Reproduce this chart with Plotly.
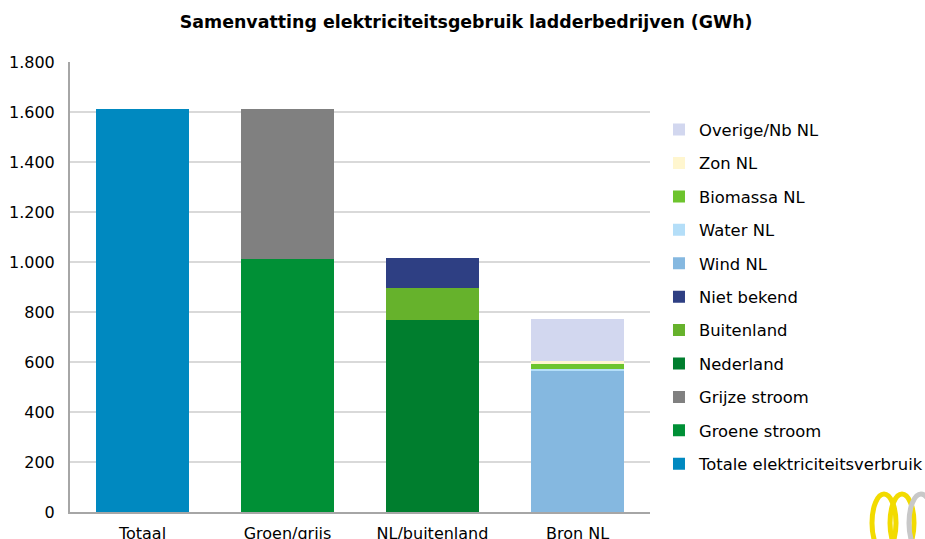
import plotly.graph_objects as go

# Categories on the x axis
categories = ["Totaal", "Groen/grijs", "NL/buitenland", "Bron NL"]

# Series (GWh), in stacking order; each series lives in one category
series_names = [
    "Totale elektriciteitsverbruik",
    "Groene stroom",
    "Grijze stroom",
    "Nederland",
    "Buitenland",
    "Niet bekend",
    "Wind NL",
    "Water NL",
    "Biomassa NL",
    "Zon NL",
    "Overige/Nb NL",
]
series_category = [
    "Totaal",
    "Groen/grijs",
    "Groen/grijs",
    "NL/buitenland",
    "NL/buitenland",
    "NL/buitenland",
    "Bron NL",
    "Bron NL",
    "Bron NL",
    "Bron NL",
    "Bron NL",
]
series_values = [1612, 1012, 600, 768, 128, 120, 565, 7, 20, 12, 168]
series_colors = [
    "#0089C0",
    "#009036",
    "#808080",
    "#007E2E",
    "#66B22C",
    "#2E3F83",
    "#85B8E0",
    "#B4DEF8",
    "#6DC42D",
    "#FFF6CF",
    "#D2D7EF",
]

y_ticks = [0, 200, 400, 600, 800, 1000, 1200, 1400, 1600, 1800]

FONT = "DejaVu Sans"

fig = go.Figure()
n = len(series_names)
for i, (name, cat, val, col) in enumerate(
    zip(series_names, series_category, series_values, series_colors)
):
    fig.add_trace(
        go.Bar(
            name=name,
            x=[cat],
            y=[val],
            marker=dict(color=col, line=dict(width=0)),
            legendgroup=f"g{i}",
            legendrank=100 + (n - i),
            hovertemplate="%{x}: %{y}<extra>" + name + "</extra>",
        )
    )

fig.update_layout(
    barmode="stack",
    bargap=0.355,
    width=925,
    height=539,
    margin=dict(l=70, r=275, t=62, b=27, autoexpand=False),
    paper_bgcolor="white",
    plot_bgcolor="white",
    separators=",.",
    font=dict(family=FONT, size=16, color="#000000"),
    title=dict(
        text="<b>Samenvatting elektriciteitsgebruik ladderbedrijven (GWh)</b>",
        x=0.504,
        xanchor="center",
        y=0.959,
        yanchor="middle",
        font=dict(family=FONT, size=17.4, color="#000000"),
    ),
    legend=dict(
        traceorder="grouped",
        tracegroupgap=9.1,
        x=1.0155,
        xanchor="left",
        y=0.888,
        yanchor="top",
        font=dict(family=FONT, size=16.4, color="#000000"),
        bgcolor="rgba(0,0,0,0)",
        itemclick=False,
    ),
    xaxis=dict(
        categoryorder="array",
        categoryarray=categories,
        automargin=False,
        showline=True,
        linecolor="#A6A6A6",
        linewidth=2,
        ticks="",
        ticklabelstandoff=6,
        tickfont=dict(family=FONT, size=16, color="#000000"),
        showgrid=False,
        fixedrange=True,
    ),
    yaxis=dict(
        range=[0, 1800],
        tickvals=y_ticks,
        tickformat=",d",
        automargin=False,
        showline=True,
        linecolor="#A6A6A6",
        linewidth=2,
        showgrid=True,
        gridcolor="#D9D9D9",
        gridwidth=2,
        zeroline=False,
        ticks="",
        ticklabelstandoff=10,
        tickfont=dict(family=FONT, size=16, color="#000000"),
        fixedrange=True,
    ),
)

# Small brand mark in the lower right corner
def px_x(px):
    return (px - 70) / 580.0


def px_y(py):
    return (512 - py) / 450.0


for cx, col in [(884, "#F2DB00"), (902, "#F2DB00"), (921, "#C8C8C8")]:
    fig.add_shape(
        type="circle",
        xref="paper",
        yref="paper",
        x0=px_x(cx - 12),
        x1=px_x(cx + 12),
        y0=px_y(552),
        y1=px_y(494),
        line=dict(color=col, width=5),
        fillcolor="rgba(0,0,0,0)",
        layer="above",
    )

fig.write_html("out.html")
